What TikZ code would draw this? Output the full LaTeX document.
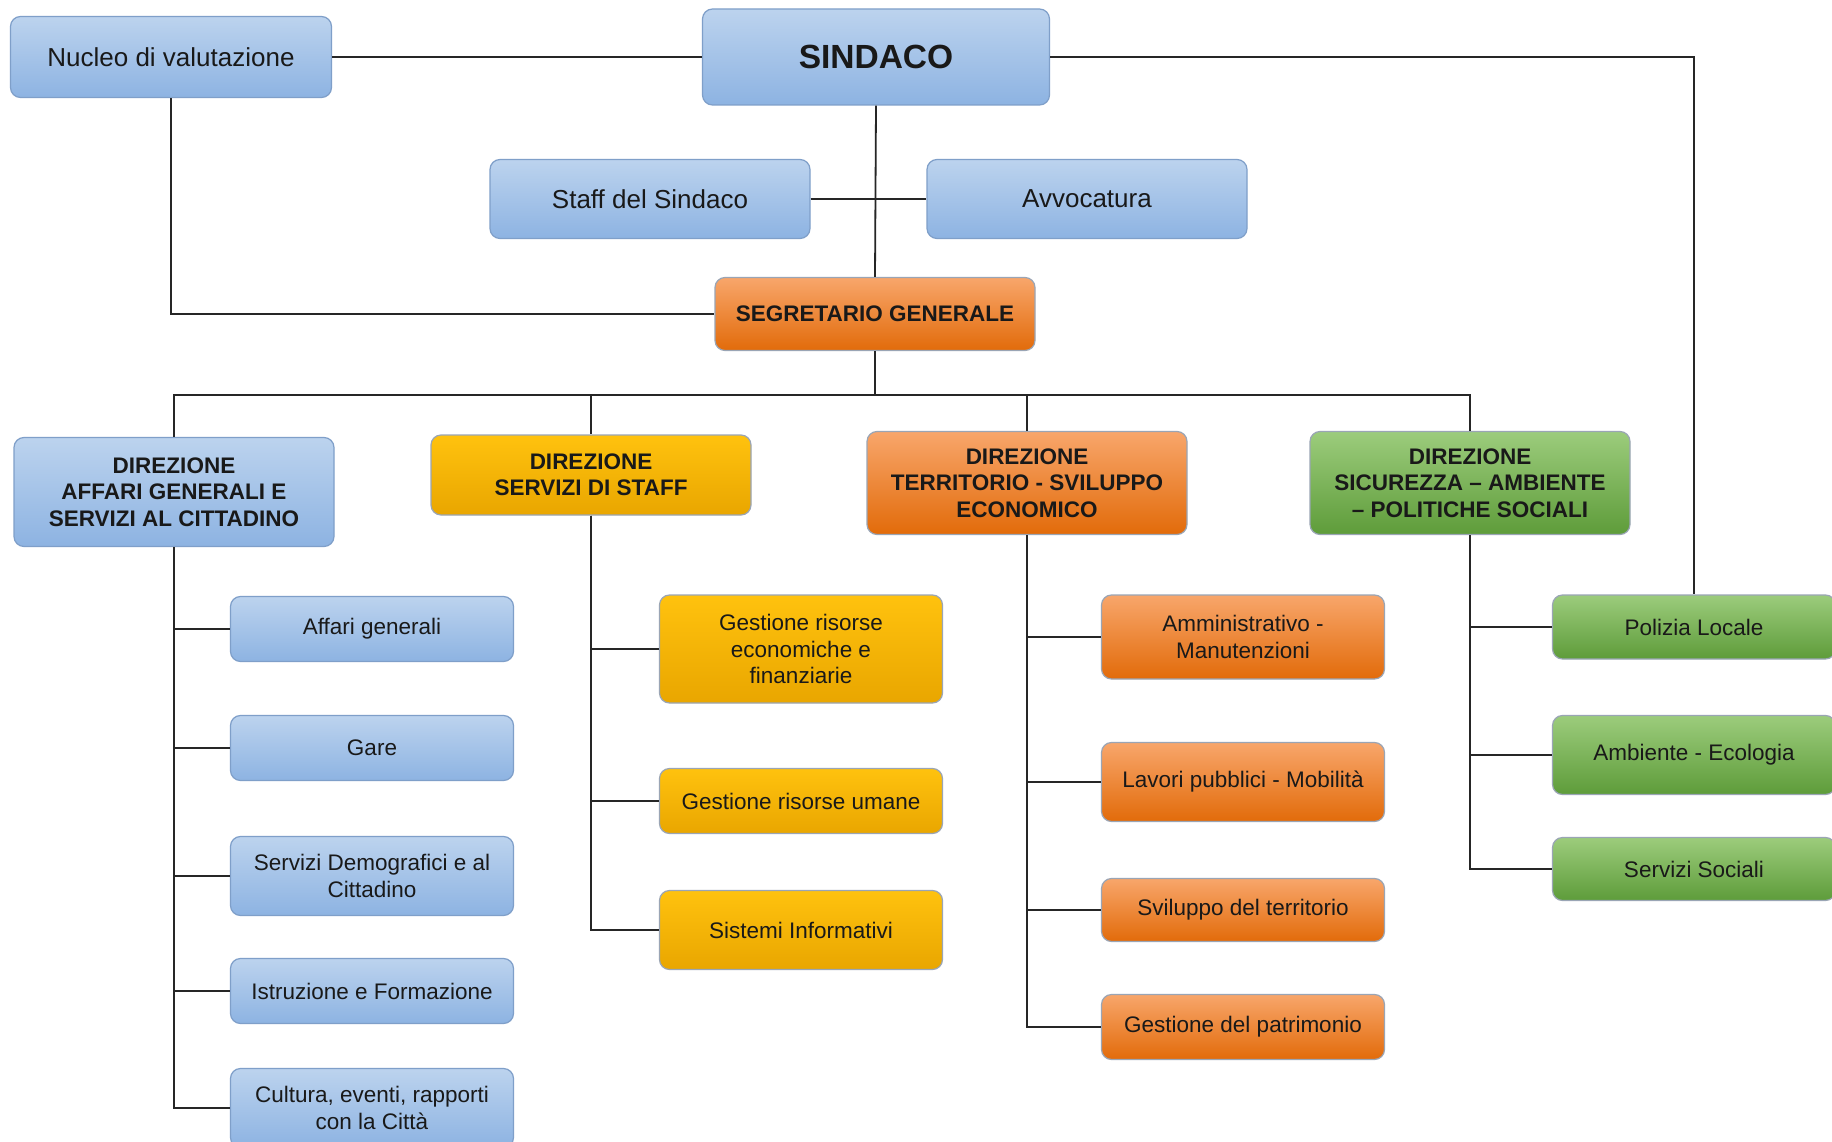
\documentclass[tikz,border=0pt]{standalone}
\usepackage{fontspec}
\setmainfont{Liberation Sans}
\definecolor{blutop}{HTML}{BCD3EE}
\definecolor{blubot}{HTML}{8DB3E2}
\definecolor{bluline}{HTML}{7F9FC9}
\definecolor{oratop}{HTML}{F8A66B}
\definecolor{orabot}{HTML}{E26B0A}
\definecolor{yeltop}{HTML}{FFC20E}
\definecolor{yelbot}{HTML}{E9A600}
\definecolor{gretop}{HTML}{9CCC7C}
\definecolor{grebot}{HTML}{5E9C3A}
\definecolor{boxline}{HTML}{9AA5B5}
\tikzset{
  box/.style={rounded corners=10, line width=1.2, align=center, inner sep=0pt,
    text=black!90, font=\fontsize{22.5}{26.3}\selectfont},
  blubox/.style={box, draw=bluline, top color=blutop, bottom color=blubot},
  orabox/.style={box, draw=boxline, top color=oratop, bottom color=orabot},
  yelbox/.style={box, draw=boxline, top color=yeltop, bottom color=yelbot},
  grebox/.style={box, draw=boxline, top color=gretop, bottom color=grebot},
  big/.style={font=\fontsize{26}{30}\selectfont},
  head/.style={font=\fontsize{22.5}{26.3}\selectfont\bfseries},
  child/.style={minimum width=283},
  wire/.style={line width=1.8, draw=black!85}
}
\begin{document}
\begin{tikzpicture}[x=1pt, y=-1pt]
    \useasboundingbox (0,0) rectangle (1832,1142);
    \clip (0,0) rectangle (1832,1142);
    \fill[white] (0,0) rectangle (1832,1142);

    \node[blubox, big, minimum width=321, minimum height=81] (nucleo) at (171,57) {Nucleo di valutazione};
    \node[blubox, minimum width=347, minimum height=96, font=\fontsize{33.5}{38}\selectfont\bfseries] (sindaco) at (876,57) {SINDACO};
    \node[blubox, big, minimum width=320, minimum height=79] (staff) at (650,199) {Staff del Sindaco};
    \node[blubox, big, minimum width=320, minimum height=79] (avv) at (1087,199) {Avvocatura};
    \node[orabox, head, minimum width=320, minimum height=73] (segr) at (875,314) {SEGRETARIO GENERALE};
    \coordinate (bus) at (875,395);

    \node[blubox, head, minimum width=320, minimum height=109] (dirag) at (174,492) {DIREZIONE\\AFFARI GENERALI E\\SERVIZI AL CITTADINO};
    \node[yelbox, head, minimum width=320, minimum height=80] (dirst) at (591,475) {DIREZIONE\\SERVIZI DI STAFF};
    \node[orabox, head, minimum width=320, minimum height=103] (dirte) at (1027,483) {DIREZIONE\\TERRITORIO - SVILUPPO\\ECONOMICO};
    \node[grebox, head, minimum width=320, minimum height=103] (dirsi) at (1470,483) {DIREZIONE\\SICUREZZA – AMBIENTE\\– POLITICHE SOCIALI};

    \node[blubox, child, minimum height=65] (agaff) at (372,629) {Affari generali};
    \node[blubox, child, minimum height=65] (aggare) at (372,748) {Gare};
    \node[blubox, child, minimum height=79] (agdemo) at (372,876) {Servizi Demografici e al\\Cittadino};
    \node[blubox, child, minimum height=65] (agistr) at (372,991) {Istruzione e Formazione};
    \node[blubox, child, minimum height=79] (agcult) at (372,1108) {Cultura, eventi, rapporti\\con la Città};

    \node[yelbox, child, minimum height=108] (steco) at (801,649) {Gestione risorse\\economiche e\\finanziarie};
    \node[yelbox, child, minimum height=65] (stuma) at (801,801) {Gestione risorse umane};
    \node[yelbox, child, minimum height=79] (stinf) at (801,930) {Sistemi Informativi};

    \node[orabox, child, minimum height=84] (teamm) at (1243,637) {Amministrativo -\\Manutenzioni};
    \node[orabox, child, minimum height=79] (telav) at (1243,782) {Lavori pubblici - Mobilità};
    \node[orabox, child, minimum height=63] (tesvi) at (1243,910) {Sviluppo del territorio};
    \node[orabox, child, minimum height=65] (tepat) at (1243,1027) {Gestione del patrimonio};

    \node[grebox, child, minimum height=64] (sipol) at (1694,627) {Polizia Locale};
    \node[grebox, child, minimum height=79] (siamb) at (1694,755) {Ambiente - Ecologia};
    \node[grebox, child, minimum height=63] (sisoc) at (1694,869) {Servizi Sociali};

    \draw[wire] (nucleo.east) -- (sindaco.west);
    \draw[wire] (nucleo.south) |- (segr.west);
    \draw[wire] (sindaco.south) -- (segr.north);
    \draw[wire] (staff.east) -- (avv.west);
    \draw[wire] (sindaco.east) -| (sipol.north);
    \draw[wire] (segr.south) -- (bus);
    \foreach \d in {dirag,dirst,dirte,dirsi}
        \draw[wire] (bus) -| (\d.north);
    \foreach \c in {agaff,aggare,agdemo,agistr,agcult}
        \draw[wire] (dirag.south) |- (\c.west);
    \foreach \c in {steco,stuma,stinf}
        \draw[wire] (dirst.south) |- (\c.west);
    \foreach \c in {teamm,telav,tesvi,tepat}
        \draw[wire] (dirte.south) |- (\c.west);
    \foreach \c in {sipol,siamb,sisoc}
        \draw[wire] (dirsi.south) |- (\c.west);
\end{tikzpicture}
\end{document}
